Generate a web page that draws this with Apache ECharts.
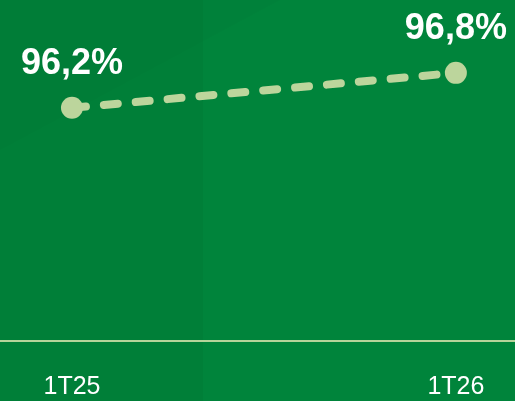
<!DOCTYPE html>
<html>
<head>
<meta charset="utf-8">
<script src="https://cdn.jsdelivr.net/npm/echarts@6/dist/echarts.min.js"></script>
<style>
  html, body { margin: 0; padding: 0; }
  #chart { width: 515px; height: 401px; }
</style>
</head>
<body>
<div id="chart"></div>
<script>
// periods and values
const periods = ['1T25', '1T26'];
const values = [96.2, 96.8];

const lineColor = '#bcd59c';

const myChart = echarts.init(document.getElementById('chart'));
const option = {
    backgroundColor: '#00843b',
    animation: false,
    graphic: [
        // darker left panel
        {
            type: 'rect',
            shape: { x: 0, y: 0, width: 203, height: 401 },
            style: { fill: 'rgba(0,0,0,0.035)' },
            silent: true,
            z: -10,
        },
        // faint diagonal shade at the top
        {
            type: 'polygon',
            shape: { points: [[0, 0], [280, 0], [0, 150]] },
            style: { fill: 'rgba(0,0,0,0.015)' },
            silent: true,
            z: -10,
        },
    ],
    grid: {
        left: 0,
        right: 0,
        top: 0,
        bottom: 60,
    },
    xAxis: {
        type: 'value',
        min: -0.1875,
        max: 1.154,
        splitLine: { show: false },
        axisTick: { show: false },
        axisLine: {
            show: true,
            onZero: false,
            lineStyle: { color: '#b5d49a', width: 2 },
        },
        axisLabel: {
            customValues: [0, 1],
            formatter: (v) => periods[Math.round(v)],
            color: '#ffffff',
            fontFamily: 'Liberation Sans',
            fontSize: 25,
            margin: 34,
        },
    },
    yAxis: {
        type: 'value',
        min: 92.2,
        max: 98.05,
        show: false,
        splitLine: { show: false },
    },
    series: [
        {
            type: 'line',
            data: values.map((v, i) => [i, v]),
            symbol: 'circle',
            symbolSize: 22,
            itemStyle: { color: lineColor },
            lineStyle: {
                color: lineColor,
                width: 8,
                type: [14, 18],
                cap: 'round',
            },
            label: {
                show: true,
                position: 'top',
                distance: 15,
                color: '#ffffff',
                fontFamily: 'Liberation Sans',
                fontWeight: 'bold',
                fontSize: 36,
                formatter: (p) => p.data[1].toFixed(1).replace('.', ',') + '%',
            },
        },
    ],
};
myChart.setOption(option);
</script>
</body>
</html>
